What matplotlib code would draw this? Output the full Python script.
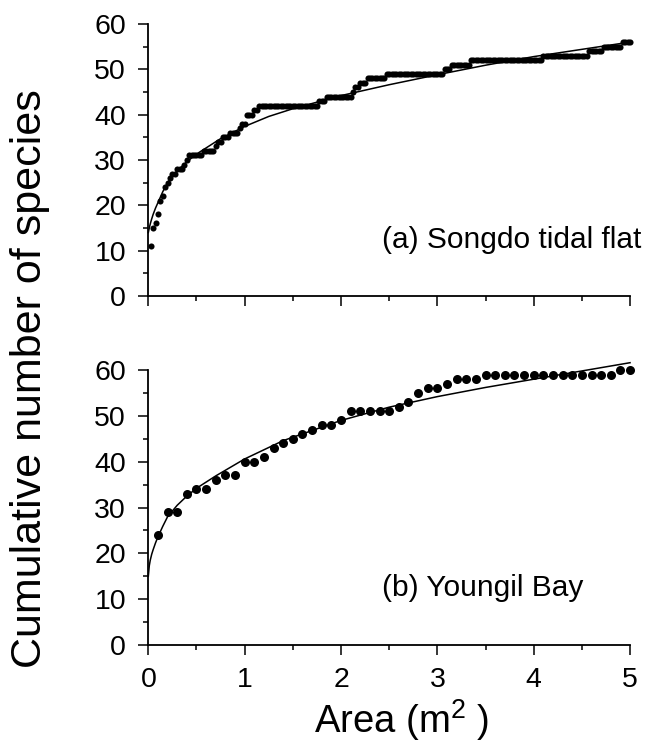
import numpy as np
import matplotlib
matplotlib.use('Agg')
import matplotlib.pyplot as plt
from matplotlib.ticker import MultipleLocator

plt.rcParams['font.family'] = ['Liberation Sans', 'DejaVu Sans']
plt.rcParams['mathtext.fontset'] = 'custom'
plt.rcParams['mathtext.rm'] = 'Liberation Sans'
plt.rcParams['mathtext.it'] = 'Liberation Sans'

# (a) Songdo tidal flat: cumulative species per 0.025 m2 sample
songdo_area = np.arange(1, 201) * 0.025
songdo_species = [
  11, 15, 16, 18, 21, 22, 24, 25, 26, 27, 27, 28, 28, 28, 29, 30, 31, 31, 31, 31,
  31, 31, 32, 32, 32, 32, 32, 33, 34, 34, 35, 35, 35, 36, 36, 36, 36, 37, 38, 38,
  40, 40, 40, 41, 41, 42, 42, 42, 42, 42, 42, 42, 42, 42, 42, 42, 42, 42, 42, 42,
  42, 42, 42, 42, 42, 42, 42, 42, 42, 42, 43, 43, 43, 44, 44, 44, 44, 44, 44, 44,
  44, 44, 44, 44, 45, 46, 46, 47, 47, 47, 48, 48, 48, 48, 48, 48, 48, 48, 49, 49,
  49, 49, 49, 49, 49, 49, 49, 49, 49, 49, 49, 49, 49, 49, 49, 49, 49, 49, 49, 49,
  49, 49, 50, 50, 50, 51, 51, 51, 51, 51, 51, 51, 51, 52, 52, 52, 52, 52, 52, 52,
  52, 52, 52, 52, 52, 52, 52, 52, 52, 52, 52, 52, 52, 52, 52, 52, 52, 52, 52, 52,
  52, 52, 52, 53, 53, 53, 53, 53, 53, 53, 53, 53, 53, 53, 53, 53, 53, 53, 53, 53,
  53, 53, 54, 54, 54, 54, 54, 54, 55, 55, 55, 55, 55, 55, 55, 55, 56, 56, 56, 56,
]
songdo_fit_x = [0, 0.01, 0.02, 0.035, 0.05, 0.075, 0.1, 0.15, 0.2, 0.3, 0.4, 0.5,
                0.75, 1.0, 1.25, 1.5, 2.0, 2.5, 3.0, 3.5, 4.0, 4.5, 5.0]
songdo_fit_y = [14, 15.0, 15.9, 17.0, 18.0, 19.4, 20.6, 23.0, 25.0, 27.6, 29.6, 31.3,
                34.7, 37.4, 39.6, 41.3, 44.2, 46.6, 48.8, 50.9, 52.8, 54.4, 56.0]

# (b) Youngil Bay: cumulative species per 0.1 m2 sample
youngil_area = np.arange(1, 51) * 0.1
youngil_species = [
  24, 29, 29, 33, 34, 34, 36, 37, 37, 40,
  40, 41, 43, 44, 45, 46, 47, 48, 48, 49,
  51, 51, 51, 51, 51, 52, 53, 55, 56, 56,
  57, 58, 58, 58, 59, 59, 59, 59, 59, 59,
  59, 59, 59, 59, 59, 59, 59, 59, 60, 60,
]
youngil_fit_x = [0, 0.01, 0.02, 0.035, 0.05, 0.075, 0.1, 0.15, 0.2, 0.3, 0.4, 0.5,
                 0.7, 1.0, 1.4, 2.0, 2.5, 3.0, 3.5, 4.0, 4.5, 5.0]
youngil_fit_y = [15, 17.3, 18.5, 19.8, 20.8, 22.3, 23.6, 25.9, 28.0, 30.5, 32.5, 34.2,
                 36.9, 40.6, 44.6, 49.0, 51.9, 54.2, 56.2, 58.0, 59.8, 61.6]

x_ticks = [0, 1, 2, 3, 4, 5]
y_ticks = [0, 10, 20, 30, 40, 50, 60]


def style_axes(ax, show_xlabels):
  ax.set_xlim(0, 5)
  ax.set_ylim(0, 60)
  ax.spines['top'].set_visible(False)
  ax.spines['right'].set_visible(False)
  for side in ('left', 'bottom'):
    ax.spines[side].set_linewidth(1.3)
  ax.set_xticks(x_ticks)
  ax.set_yticks(y_ticks)
  ax.xaxis.set_minor_locator(MultipleLocator(0.5))
  ax.yaxis.set_minor_locator(MultipleLocator(5))
  ax.tick_params(which='major', direction='out', length=7, width=1.1, labelsize=20.5)
  ax.tick_params(which='minor', direction='out', length=3.5, width=1.1)
  ax.tick_params(axis='y', which='major', pad=9)
  ax.tick_params(axis='x', which='major', pad=8.5)
  if not show_xlabels:
    ax.tick_params(axis='x', labelbottom=False)


fig = plt.figure(figsize=(6.46, 7.42), dpi=100)
ax1 = fig.add_axes([0.2296, 0.6011, 0.7457, 0.3666])
ax2 = fig.add_axes([0.2296, 0.1307, 0.7457, 0.3706])

ax1.plot(songdo_area, songdo_species, 'o', color='black', markersize=4.4,
         markeredgewidth=0, clip_on=False)
ax1.plot(songdo_fit_x, songdo_fit_y, '-', color='black', linewidth=1.1, clip_on=False)
style_axes(ax1, False)
ax1.text(0.486, 0.206, '(a) Songdo tidal flat', transform=ax1.transAxes,
         fontsize=21.5, ha='left', va='center')

ax2.plot(youngil_area, youngil_species, 'o', color='black', markersize=6.5,
         markeredgewidth=0, clip_on=False)
ax2.plot(youngil_fit_x, youngil_fit_y, '-', color='black', linewidth=1.1, clip_on=False)
style_axes(ax2, True)
ax2.text(0.486, 0.207, '(b) Youngil Bay', transform=ax2.transAxes,
         fontsize=21.5, ha='left', va='center')

fig.text(0.622, 0.0118, 'Area (m$^2$ )', fontsize=27.5, ha='center', va='baseline')
fig.text(0.046, 0.49, 'Cumulative number of species', rotation=90,
         fontsize=31, ha='center', va='center')

fig.savefig('out.png', dpi=100)
